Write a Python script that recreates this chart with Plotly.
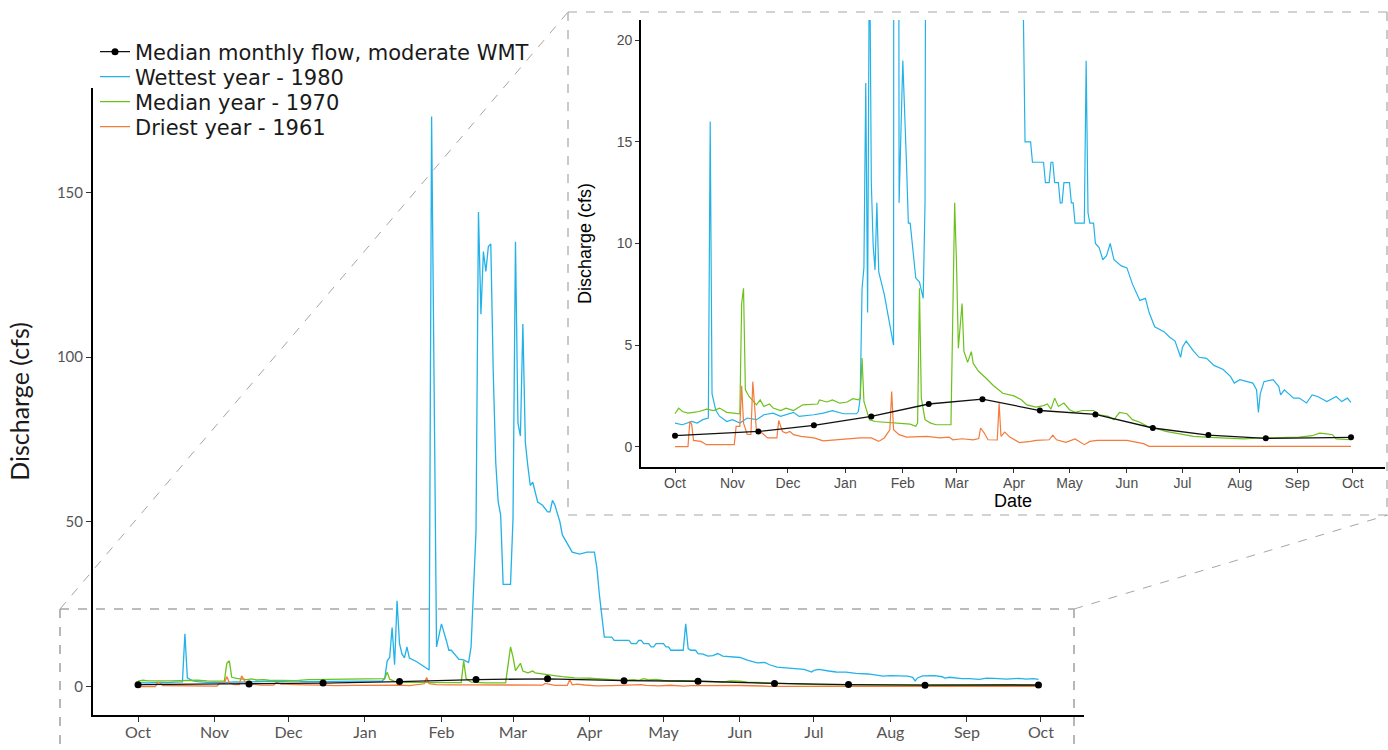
import pandas as pd
import plotly.graph_objects as go

# ---------------- data (water year Oct 1 .. Sep 30, day index from Oct 1) ----------------
WY_START = "1979-10-01"

wet_day = [0, 4, 9, 12, 15, 18, 19, 20, 22, 24, 28, 31, 35, 39, 44, 48, 53, 57, 64, 67, 75, 80, 85, 91, 98,
           99, 100, 101, 102, 103, 104, 105, 106, 107, 108, 109, 110, 113, 118, 119, 121, 123, 125, 126, 127,
           129, 130, 132, 134, 135, 136, 137, 138, 139, 140, 141, 142, 143, 144, 145, 146, 147, 148, 151, 152,
           153, 154, 155, 156, 157, 158, 159, 160, 162, 164, 166, 167, 168, 169, 171, 172, 174, 176, 179, 182,
           185, 186, 187, 188, 189, 192, 193, 199, 200, 202, 203, 204, 205, 207, 208, 209, 210, 213, 214, 215,
           216, 221, 222, 223, 224, 226, 227, 229, 231, 233, 235, 237, 241, 244, 247, 251, 254, 256, 259, 264,
           267, 270, 272, 273, 274, 276, 280, 283, 287, 291, 296, 300, 302, 305, 309, 312, 314, 315, 316, 318,
           323, 326, 327, 329, 334, 337, 341, 344, 347, 352, 357, 360, 363, 365]
wet_cfs = [1.16, 1.08, 1.24, 1.16, 1.33, 1.41, 16.0, 2.6, 1.8, 1.5, 1.24, 1.33, 1.16, 1.41, 1.33, 1.57, 1.65, 1.49,
           1.69, 1.49, 1.57, 1.65, 1.77, 1.62, 1.62,
           1.73, 2.4, 7.8, 8.8, 17.9, 6.6, 26.0, 13.0, 9.9, 8.7, 12.0, 8.6, 7.5, 5.0, 173.0, 12.0, 19.0, 13.9, 11.0,
           11.0, 9.4, 8.3, 8.1, 7.3, 12.0, 30.0, 47.0, 144.0, 113.0, 132.0, 126.0, 133.5, 134.3, 95.0, 68.0, 56.0,
           52.0, 31.0, 31.0, 51.0,
           135.0, 80.0, 76.0, 110.0, 74.0, 67.0, 61.0, 62.0, 56.0, 55.0, 53.0, 53.0, 56.5, 55.0, 50.0, 46.0, 43.6,
           40.8, 40.2, 40.8,
           40.8, 36.0, 28.0, 22.0, 15.0, 15.0, 14.0, 14.0, 13.0, 13.0, 14.0, 14.0, 13.0, 13.0, 12.0, 12.0, 13.0,
           13.0, 12.0, 12.0,
           11.0, 11.0, 19.0, 11.5, 11.0, 11.0, 10.0, 9.8, 9.2, 9.4, 10.0, 9.2, 8.9, 8.8, 8.0, 7.2, 7.3, 6.6, 5.9, 5.66,
           5.4, 5.2, 4.7, 4.4, 4.9, 5.2, 4.7, 4.4, 4.35, 4.0, 3.8, 3.45, 3.13, 3.3, 3.2, 3.13, 2.8, 1.69, 2.6, 3.2,
           3.3, 2.96, 2.55, 2.8, 2.39, 2.39, 2.15, 2.55, 2.47, 2.22, 2.47, 2.22, 2.39, 2.18]

med_day = [0, 2, 4, 7, 10, 13, 17, 21, 24, 28, 35, 36, 37, 38, 40, 44, 46, 48, 51, 53, 57, 60, 64, 69, 77, 78, 82,
           85, 89, 93, 96, 99, 100, 101, 102, 104, 105, 108, 112, 120, 127, 130, 131, 132, 133, 135, 138, 141, 149,
           150, 151, 152, 153, 155, 156, 158, 160, 161, 164, 168, 172, 177, 183, 187, 190, 195, 199, 201, 203,
           205, 207, 210, 213, 216, 220, 226, 229, 234, 237, 240, 244, 247, 251, 255, 259, 265, 272, 280, 289,
           298, 307, 316, 327, 337, 344, 348, 351, 355, 357, 365]
med_cfs = [1.62, 1.9, 1.73, 1.65, 1.69, 1.73, 1.85, 1.78, 1.9, 1.69, 1.62, 7.05, 7.8, 2.8, 2.47, 2.06, 2.3, 1.98,
           2.1, 1.9, 1.78, 1.9, 1.78, 2.06, 2.1, 2.3, 2.2, 2.3, 2.14, 2.2, 2.36, 2.3, 2.4, 4.36, 2.23, 1.57, 1.33,
           1.24, 1.21, 1.16, 1.11, 1.0, 1.16, 7.8, 2.39, 1.33, 1.16, 1.08, 1.08,
           6.5, 12.0, 9.0, 4.85, 7.05, 4.7, 4.15, 4.68, 4.1, 3.7, 3.37, 3.0, 2.63, 2.5, 2.31, 2.06, 1.95, 2.02,
           2.1, 1.85, 2.39, 1.98, 2.15, 1.82, 1.69, 1.78, 1.78, 1.57, 1.49, 1.33, 1.69, 1.62, 1.33, 1.2, 1.0, 0.92,
           0.75, 0.64, 0.51, 0.46, 0.41, 0.38, 0.43, 0.46, 0.47, 0.54, 0.67, 0.64, 0.59, 0.38, 0.34]

dry_day = [0, 7, 8, 9, 10, 14, 17, 32, 33, 35, 36, 37, 39, 41, 42, 43, 44, 46, 48, 50, 55, 56, 58, 60, 62, 64, 68,
           75, 80, 87, 100, 106, 110, 113, 116, 117, 118, 121, 125, 136, 143, 148, 150, 155, 161, 164, 165, 167,
           169, 174, 175, 176, 178, 181, 183, 186, 192, 195, 202, 204, 206, 211, 216, 219, 221, 224, 228, 244,
           253, 256, 365]
dry_cfs = [0.0, 0.0, 1.24, 1.1, 0.31, 0.26, 0.1, 0.1, 1.0, 1.0, 3.0, 1.16, 0.6, 0.6, 3.2, 1.8, 0.75, 0.75, 0.59,
           0.43, 0.43, 1.29, 0.75, 0.67, 0.75, 0.59, 0.51, 0.43, 0.29, 0.34, 0.43, 0.43, 0.26, 0.43, 0.83, 2.72,
           0.83, 0.59, 0.47, 0.51, 0.43, 0.47, 0.34, 0.39, 0.34, 0.4, 0.92, 0.67, 0.34, 0.33, 2.14, 0.51, 0.72,
           0.46, 0.34, 0.2, 0.26, 0.31, 0.34, 0.57, 0.34, 0.21, 0.38, 0.21, 0.1, 0.26, 0.31, 0.31, 0.15, 0.02,
           0.02]

monthly_dates = ["1979-10-01", "1979-11-15", "1979-12-15", "1980-01-15", "1980-02-15", "1980-03-15",
                 "1980-04-15", "1980-05-15", "1980-06-15", "1980-07-15", "1980-08-15", "1980-09-30"]
monthly_cfs = [0.54, 0.75, 1.05, 1.49, 2.1, 2.34, 1.78, 1.59, 0.92, 0.57, 0.41, 0.46]

series_names = ["Median monthly flow, moderate WMT", "Wettest year - 1980", "Median year - 1970",
                "Driest year - 1961"]
main_ticks = [0, 50, 100, 150]
inset_ticks = [0, 5, 10, 15, 20]

# ---------------- styling ----------------
C_WET = "#22B2E8"
C_MED = "#6CC11C"
C_DRY = "#F47B3A"
GOTHIC = "Lato, 'DejaVu Sans', sans-serif"
LEGEND_FONT = "'DejaVu Sans', sans-serif"
ARIAL = "'Liberation Sans', Arial, sans-serif"

W, H = 1388, 750
def px(x):
    return x / W
def py(y):
    return 1 - y / H

start = pd.Timestamp(WY_START)
def to_dates(days):
    return [start + pd.Timedelta(days=d) for d in days]

pad = pd.Timedelta(hours=18.25 * 24)
x_range = [start - pad, start + pd.Timedelta(days=365) + pad]

fig = go.Figure()

def add_series(xa, ya, show, lw, ms):
    fig.add_trace(go.Scatter(x=to_dates(wet_day), y=wet_cfs, mode="lines", name=series_names[1],
                             line=dict(color=C_WET, width=lw), xaxis=xa, yaxis=ya, showlegend=show,
                             legend="legend2"))
    fig.add_trace(go.Scatter(x=to_dates(med_day), y=med_cfs, mode="lines", name=series_names[2],
                             line=dict(color=C_MED, width=lw), xaxis=xa, yaxis=ya, showlegend=show,
                             legend="legend3"))
    fig.add_trace(go.Scatter(x=to_dates(dry_day), y=dry_cfs, mode="lines", name=series_names[3],
                             line=dict(color=C_DRY, width=lw), xaxis=xa, yaxis=ya, showlegend=show,
                             legend="legend4"))
    fig.add_trace(go.Scatter(x=pd.to_datetime(monthly_dates), y=monthly_cfs, mode="lines+markers",
                             name=series_names[0], line=dict(color="#111111", width=1.3),
                             marker=dict(color="black", size=ms), xaxis=xa, yaxis=ya, showlegend=show,
                             legend="legend"))

add_series("x", "y", True, 1.3, 7)
add_series("x2", "y2", False, 1.2, 6)

# ---------------- decorations (zoom box + connectors) ----------------
dash_col = "#A6A6A6"
def seg(x0, y0, x1, y1, w=1.4):
    fig.add_shape(type="line", xref="paper", yref="paper", x0=px(x0), y0=py(y0), x1=px(x1), y1=py(y1),
                  line=dict(color=dash_col, width=w, dash="dash"), layer="below")

seg(60, 609, 1074, 609, 1.6)
seg(60, 609, 60, 760, 1.6)
seg(1074, 609, 1074, 760, 1.6)
seg(60, 609, 568, 12, 1.0)
seg(1074, 609, 1388, 515, 1.0)
seg(568, 12, 1387, 12, 1.2)
seg(568, 12, 568, 515, 1.2)
seg(568, 515, 1387, 515, 1.2)
seg(1387, 12, 1387, 515, 1.2)

legend_font = dict(family=LEGEND_FONT, size=21, color="#1a1a1a")
def leg(row_y):
    return dict(x=px(95), y=py(row_y), xanchor="left", yanchor="middle", bgcolor="rgba(0,0,0,0)",
                font=legend_font, itemwidth=30)

fig.update_layout(
    width=W, height=H,
    margin=dict(l=0, r=0, t=0, b=0),
    paper_bgcolor="white", plot_bgcolor="rgba(0,0,0,0)",
    showlegend=True,
    legend=leg(52), legend2=leg(77), legend3=leg(102), legend4=leg(127),
    xaxis=dict(domain=[px(93), px(1083.5)], range=x_range, anchor="y", type="date",
               tick0=WY_START, dtick="M1", tickformat="%b", ticks="outside", ticklen=5,
               tickcolor="#333", showline=True, linecolor="black", linewidth=2, showgrid=False,
               zeroline=False, tickfont=dict(family=GOTHIC, size=16, color="#555555"),
               ticklabelstandoff=-3),
    yaxis=dict(domain=[py(715), py(88)], range=[-8.65, 181.65], anchor="x", tickvals=main_ticks,
               ticks="outside", ticklen=5, tickcolor="#333", showline=True, linecolor="black",
               linewidth=2, showgrid=False, zeroline=False,
               tickfont=dict(family=GOTHIC, size=15, color="#555555"),
               title=dict(text="Discharge (cfs)", font=dict(family=GOTHIC, size=25, color="#1a1a1a"),
                          standoff=20)),
    xaxis2=dict(domain=[px(641.2), px(1384.8)], range=x_range, anchor="y2", type="date",
                tick0=WY_START, dtick="M1", tickformat="%b", ticks="outside", ticklen=4,
                tickcolor="#333", showline=True, linecolor="black", linewidth=2, showgrid=False,
                zeroline=False, tickfont=dict(family=ARIAL, size=14, color="#4d4d4d"),
                ticklabelstandoff=-2,
                title=dict(text="Date", font=dict(family=ARIAL, size=18, color="black"), standoff=0)),
    yaxis2=dict(domain=[py(467), py(20)], range=[-1, 21], anchor="x2", tickvals=inset_ticks,
                ticks="outside", ticklen=4, tickcolor="#333", showline=True, linecolor="black",
                linewidth=2, showgrid=False, zeroline=False,
                tickfont=dict(family=ARIAL, size=14, color="#4d4d4d"),
                title=dict(text="Discharge (cfs)", font=dict(family=ARIAL, size=18, color="black"),
                           standoff=21)),
)

fig.write_html("out.html", config={"displayModeBar": False},
               post_script="document.body.style.margin='0';document.body.style.overflow='hidden';")
